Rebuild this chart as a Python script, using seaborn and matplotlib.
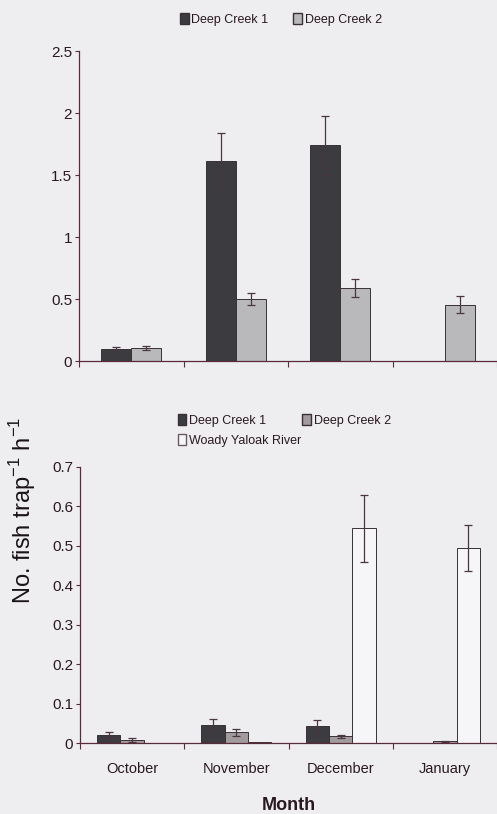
import numpy as np
import pandas as pd
import matplotlib
matplotlib.use("Agg")
import matplotlib.pyplot as plt
import seaborn as sns
from matplotlib.patches import Patch

months = ["October", "November", "December", "January"]

# Top panel
top_sites = ["Deep Creek 1", "Deep Creek 2"]
top_dc1 = [0.10, 1.61, 1.74, 0.0]
top_dc1_err = [0.01, 0.23, 0.24, 0.0]
top_dc2 = [0.105, 0.50, 0.59, 0.455]
top_dc2_err = [0.015, 0.05, 0.07, 0.07]

# Bottom panel
bot_sites = ["Deep Creek 1", "Deep Creek 2", "Woady Yaloak River"]
bot_dc1 = [0.020, 0.046, 0.042, 0.0]
bot_dc1_err = [0.007, 0.014, 0.017, 0.0]
bot_dc2 = [0.008, 0.027, 0.017, 0.004]
bot_dc2_err = [0.005, 0.008, 0.004, 0.001]
bot_wyr = [0.0, 0.002, 0.545, 0.495]
bot_wyr_err = [0.0, 0.0, 0.085, 0.058]

top_yticks = [0, 0.5, 1, 1.5, 2, 2.5]
top_yticklabels = ["0", "0.5", "1", "1.5", "2", "2.5"]
bot_yticks = [0, 0.1, 0.2, 0.3, 0.4, 0.5, 0.6, 0.7]
bot_yticklabels = ["0", "0.1", "0.2", "0.3", "0.4", "0.5", "0.6", "0.7"]

BG = "#eeeef1"
AX = "#5a2a38"
TXT = "#2a1820"
C_DC1 = "#3b3b40"
C_DC2_TOP = "#b9b9bc"
C_DC2_BOT = "#a19b9e"
C_WYR = "#f6f6f8"

sns.set_theme(style="ticks")
plt.rcParams["font.family"] = ["Liberation Sans", "DejaVu Sans"]

fig = plt.figure(figsize=(4.97, 8.14), dpi=100, facecolor=BG)
ax1 = fig.add_axes([0.159, 0.5565, 0.841, 0.3808])
ax2 = fig.add_axes([0.161, 0.0872, 0.839, 0.3391])


def draw(ax, sites, vals, errs, colors, width, ylim, yticks, yticklabels):
    rows = []
    for s, v in zip(sites, vals):
        for m, x in zip(months, v):
            rows.append({"Month": m, "Site": s, "Value": x})
    df = pd.DataFrame(rows)
    sns.barplot(data=df, x="Month", y="Value", hue="Site", order=months,
                hue_order=sites, palette=colors, width=width, errorbar=None,
                edgecolor="#3a3035", linewidth=0.7, legend=False, ax=ax,
                saturation=1)
    for i, (s, e) in enumerate(zip(sites, errs)):
        cont = ax.containers[i]
        for bar, m_err, val in zip(cont.patches, e, vals[i]):
            if m_err <= 0:
                continue
            xc = bar.get_x() + bar.get_width() / 2
            ax.errorbar(xc, val, yerr=m_err, fmt="none", ecolor="#4a3540",
                        elinewidth=0.9, capsize=3, capthick=0.9, zorder=1)
    ax.set_facecolor(BG)
    ax.set_xlim(-0.5, 3.5)
    ax.set_ylim(*ylim)
    ax.set_yticks(yticks)
    ax.set_yticklabels(yticklabels)
    ax.set_xticks([-0.5, 0.5, 1.5, 2.5, 3.5], minor=False)
    ax.set_xlabel("")
    ax.set_ylabel("")
    for sp in ["top", "right"]:
        ax.spines[sp].set_visible(False)
    for sp in ["left", "bottom"]:
        ax.spines[sp].set_color(AX)
        ax.spines[sp].set_linewidth(0.9)
    ax.tick_params(axis="y", which="major", left=True, direction="out",
                   length=3, width=0.8, color=AX,
                   labelsize=11, labelcolor=TXT, pad=2)
    ax.tick_params(axis="x", which="major", bottom=True, direction="out",
                   length=4, width=0.8, color=AX,
                   labelsize=10.5, labelcolor=TXT)


draw(ax1, top_sites, [top_dc1, top_dc2], [top_dc1_err, top_dc2_err],
     [C_DC1, C_DC2_TOP], 0.57, (0, 2.5), top_yticks, top_yticklabels)
ax1.set_xticklabels([])

draw(ax2, bot_sites, [bot_dc1, bot_dc2, bot_wyr],
     [bot_dc1_err, bot_dc2_err, bot_wyr_err],
     [C_DC1, C_DC2_BOT, C_WYR], 0.67, (0, 0.7), bot_yticks, bot_yticklabels)
ax2.set_xticks([0, 1, 2, 3], minor=True)
ax2.set_xticklabels([])
ax2.set_xticklabels(months, minor=True)
ax2.tick_params(axis="x", which="minor", length=0, pad=14, labelsize=10.5,
                labelcolor=TXT)

ax2.set_xlabel("Month", fontsize=13, fontweight="bold", color=TXT, labelpad=15)

fig.text(0.045, 0.373, "No. fish trap$^{\\mathregular{-1}}$ h$^{\\mathregular{-1}}$",
         rotation=90, fontsize=17, color="#1a1418", ha="center", va="center")

# legends
h_top = [Patch(facecolor=C_DC1, edgecolor="#3a3035", label="Deep Creek 1"),
         Patch(facecolor=C_DC2_TOP, edgecolor="#3a3035", label="Deep Creek 2")]
fig.legend(handles=h_top, loc="center", bbox_to_anchor=(0.565, 0.976), ncol=2,
           frameon=False, fontsize=9, handlelength=0.7, handleheight=0.9,
           handletextpad=0.2, columnspacing=2.0, labelcolor=TXT)

h_bot = [Patch(facecolor=C_DC1, edgecolor="#3a3035", label="Deep Creek 1"),
         Patch(facecolor=C_WYR, edgecolor="#6a5a62", label="Woady Yaloak River"),
         Patch(facecolor=C_DC2_BOT, edgecolor="#3a3035", label="Deep Creek 2")]
fig.legend(handles=h_bot, loc="upper left", bbox_to_anchor=(0.335, 0.505),
           ncol=2, frameon=False, fontsize=9, handlelength=0.7,
           handleheight=0.9, handletextpad=0.2, columnspacing=0.1,
           labelspacing=0.6, labelcolor=TXT)

fig.savefig("out.png", dpi=100, facecolor=BG)
